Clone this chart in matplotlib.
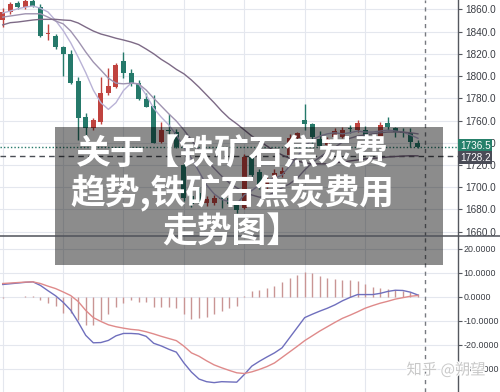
import matplotlib
matplotlib.use("Agg")
import matplotlib.pyplot as plt
from matplotlib.patches import Rectangle
from matplotlib.lines import Line2D
import matplotlib.transforms as mtransforms
import matplotlib.patheffects as pe
import numpy as np

plt.rcParams['font.family'] = ['Noto Sans CJK SC', 'DejaVu Sans']

# candles: open, high, low, close
opens = [1850.4, 1857.8, 1865.4, 1861.8, 1867.5, 1862.3, 1837.5, 1836, 1825.8, 1819.8,
         1795.5, 1763.1, 1753.2, 1758.9, 1784.7, 1790.4, 1813.8, 1803, 1794, 1779,
         1773, 1741, 1751.5, 1750, 1720, 1692, 1694.7, 1686, 1685.8, 1690.5,
         1690, 1684, 1681, 1727, 1713.6, 1700, 1708.5, 1711.5, 1729, 1744,
         1760.4, 1757, 1743, 1738, 1745, 1745.5, 1753.3, 1751.5, 1751.5, 1745,
         1745.4, 1757.5, 1753, 1749.3, 1749, 1740]
highs = [1860.9, 1867, 1867.5, 1870, 1870, 1864.8, 1846.8, 1838, 1827, 1823.4,
         1799, 1766.7, 1762, 1799.4, 1807.2, 1812, 1821.9, 1806, 1796.4, 1785,
         1783, 1759, 1766, 1752, 1722, 1697, 1700, 1692, 1693, 1693,
         1692, 1686, 1730, 1731, 1716, 1709, 1716, 1718, 1748, 1750,
         1774.8, 1758, 1751, 1745, 1753, 1754.5, 1756, 1760.4, 1755, 1748,
         1759, 1763.4, 1754, 1753.5, 1753, 1742.5]
lows = [1844.4, 1855.5, 1860, 1860, 1862, 1835.5, 1832.4, 1824, 1800, 1793,
        1742.5, 1744, 1751.4, 1757, 1783, 1789, 1798.2, 1791, 1778, 1772,
        1740, 1739.5, 1742, 1735, 1688, 1682, 1684, 1683, 1684, 1681.5,
        1683, 1677, 1680, 1709, 1698, 1697, 1706, 1709, 1727, 1742,
        1751.4, 1740, 1735, 1736, 1743, 1744, 1749, 1750, 1742, 1741,
        1744, 1751.4, 1745, 1745, 1736.5, 1735.7]
closes = [1857.8, 1864.8, 1861.8, 1867.5, 1863, 1836.3, 1838.4, 1825.8, 1819.5, 1794,
          1762.2, 1753.2, 1760.4, 1785, 1791, 1810, 1803, 1793.5, 1779.1, 1772.4,
          1740, 1751.5, 1750.6, 1736.4, 1690, 1685, 1686.7, 1689, 1690, 1689.8,
          1685, 1679.5, 1727.5, 1711, 1700, 1706, 1713, 1715, 1744, 1748.4,
          1756.8, 1745.5, 1737, 1743, 1750.5, 1751.7, 1752.5, 1757.5, 1744, 1744.5,
          1756, 1754, 1749.6, 1749, 1741, 1736.5]

ma5 = [1856.7, 1858.5, 1860.5, 1862, 1863, 1861, 1857.6, 1850, 1841, 1830,
       1817, 1803, 1787.4, 1776, 1770, 1776, 1787, 1793.6, 1793, 1783,
       1771, 1763, 1756, 1747, 1736, 1726, 1714, 1702, 1694, 1689,
       1687, 1685, 1693, 1697, 1702, 1706.5, 1708, 1711, 1719, 1727,
       1737, 1742.5, 1746, 1748, 1749, 1748, 1749, 1750.5, 1749.6, 1749.6,
       1750.5, 1751.4, 1750.5, 1749.6, 1747, 1744]
ma10 = [1853, 1854, 1855, 1856, 1856, 1856, 1853, 1849.5, 1847, 1840.5,
        1831.5, 1821.6, 1812.6, 1805.4, 1798, 1793.6, 1793, 1793.6, 1793, 1787.4,
        1780, 1773, 1766, 1759.5, 1751.5, 1742.5, 1733.5, 1724.5, 1717, 1710,
        1704, 1699.5, 1695.6, 1693, 1691, 1692, 1695.6, 1699.5, 1703, 1708,
        1715.5, 1722, 1727, 1731.6, 1736, 1740.5, 1744, 1746, 1747, 1748,
        1749, 1749.6, 1749.6, 1749.6, 1749, 1748]
ma20 = [1846, 1848, 1848.6, 1849.5, 1850.4, 1851, 1851, 1851, 1850.4, 1850,
        1847.7, 1844, 1840.5, 1837.8, 1836, 1834, 1832.4, 1830.6, 1828.3, 1824.3,
        1820, 1815, 1810.8, 1806, 1802, 1796.4, 1790, 1783, 1776, 1768.5,
        1762, 1757, 1751.5, 1746, 1741.6, 1737, 1732.5, 1729, 1726, 1723.5,
        1722, 1721, 1721, 1721, 1722, 1722.7, 1723.6, 1724.5, 1725.4, 1726,
        1726.3, 1727.2, 1727.6, 1728, 1728.3, 1728.2]

dif = [5.2, 5.5, 5.8, 6.1, 6.3, 4.8, 2.6, 0.5, -2.2, -5.5,
       -10.5, -16.0, -19.1, -19.0, -18.1, -16.2, -15.2, -15.2, -15.4, -16.4,
       -19.3, -20.4, -21.8, -23.0, -27.5, -31.3, -34.2, -35.3, -35.7, -35.3,
       -35.4, -35.5, -32.3, -28.8, -26.8, -25.0, -23.3, -21.2, -17.0, -12.8,
       -8.6, -7.2, -5.9, -4.7, -3.3, -1.6, -0.2, 1.0, 1.0, 1.0,
       1.5, 2.3, 2.8, 2.7, 2.0, 0.8]
dea = [5.6, 5.8, 6.0, 6.2, 6.3, 5.6, 4.5, 3.5, 2.1, 0.6,
       -1.9, -5.6, -8.6, -10.2, -11.6, -12.4, -13.0, -13.5, -13.8, -14.5,
       -15.4, -16.4, -17.3, -18.2, -20.5, -23.3, -24.7, -26.6, -28.3, -29.5,
       -30.6, -31.6, -31.9, -31.2, -30.2, -29.0, -27.5, -25.2, -22.9, -20.6,
       -18.2, -16.2, -14.2, -12.4, -10.6, -8.9, -7.6, -6.2, -4.7, -3.6,
       -2.6, -1.8, -0.9, -0.3, 0.3, 0.6]
hist = [-0.5, 0, 0, 0.2, 0.2, -1.25, -2.5, -3.75, -6.5, -6.8,
        -9.7, -11.8, -11.8, -9.7, -7.1, -4.2, -2.5, -1.25, -1.9, -2.1,
        -4.2, -4.2, -4.2, -4.7, -7.2, -9.0, -8.6, -8.2, -7.1, -5.7,
        -4.7, -3.75, 0.3, 2.6, 2.8, 3.75, 4.7, 6.1, 7.9, 9.3,
        10.4, 10.0, 8.9, 7.8, 7.5, 6.9, 6.9, 6.8, 5.4, 4.2,
        3.6, 3.3, 2.8, 2.5, 2.1, 1.25]

price_ticks = [1660, 1680, 1700, 1720, 1740, 1760, 1780, 1800, 1820, 1840, 1860]
macd_ticks = [-30, -20, -10, 0, 10, 20]
last_price = 1736.5
ma_last = 1728.2

up_col = '#c0433f'
down_col = '#25796a'
grid_col = '#e4e7ee'
axis_col = '#55585f'
num_font = 'Liberation Sans'

x = np.arange(len(opens))
o = np.array(opens); c = np.array(closes)
colors = [up_col if cc >= oo else down_col for oo, cc in zip(opens, closes)]
bottoms = np.minimum(o, c)
heights = np.maximum(np.abs(c - o), 0.6)

W, H = 500, 392
fig = plt.figure(figsize=(5, 3.92), dpi=100)
ax1 = fig.add_axes([0, 1 - 236 / H, 458 / W, 236 / H])
ax2 = fig.add_axes([0, 0, 458 / W, (H - 236) / H])

xmin, xmax = -2.7 / 7.55, (458 - 2.7) / 7.55
for ax in (ax1, ax2):
    ax.set_xlim(xmin, xmax)
    for s in ('top', 'left', 'bottom'):
        ax.spines[s].set_visible(False)
    ax.spines['right'].set_color(axis_col)
    ax.spines['right'].set_linewidth(1)
    ax.yaxis.tick_right()
    ax.tick_params(axis='y', length=3, width=0.8, color=axis_col, labelsize=7.2,
                   labelcolor='#3a3d44', pad=2)
    ax.set_xticks(np.arange(0, 56, 8))
    ax.tick_params(axis='x', length=0, labelbottom=False)
    ax.grid(True, color=grid_col, lw=0.8)
    ax.set_axisbelow(True)
    ax.axvline(56, color='#777a80', lw=1, ls=(0, (3, 3)))

# price panel
ax1.set_ylim(1656.1, 1868.4)
ax1.set_yticks(price_ticks)
ax1.set_yticklabels(['%.1f' % t for t in price_ticks], family=num_font)
ax1.vlines(x, lows, highs, colors=colors, lw=1, zorder=3)
ax1.bar(x, heights, bottom=bottoms, width=0.66, color=colors, zorder=4)
ax1.plot(x, ma5, color='#b9b2d6', lw=1, zorder=5)
ax1.plot(x, ma10, color='#9f93b0', lw=1, zorder=5)
ax1.plot(x, ma20, color='#7d6a86', lw=1, zorder=5)
ax1.axhline(last_price, color=down_col, lw=1, ls=(0, (1, 1.5)), zorder=2)
ax1.axhline(ma_last, color='#4a4d55', lw=1, ls=(0, (4, 3)), zorder=2)

trans = mtransforms.blended_transform_factory(ax1.transAxes, ax1.transData)
ax1.text(1.004, last_price + 0.6, '%.1f' % last_price, transform=trans, color='white',
         fontsize=7.2, family=num_font, va='center', ha='left', zorder=10, clip_on=False,
         bbox=dict(boxstyle='square,pad=0.18', facecolor='#26806a', edgecolor='none'))
ax1.text(1.004, ma_last - 1.6, '%.1f' % ma_last, transform=trans, color='white',
         fontsize=7.2, family=num_font, va='center', ha='left', zorder=10, clip_on=False,
         bbox=dict(boxstyle='square,pad=0.18', facecolor='#4a4c57', edgecolor='none'))

# macd panel
ax2.set_ylim(-39.6, 25.4)
ax2.set_yticks(macd_ticks)
ax2.set_yticklabels(['%.4f' % t for t in macd_ticks], family=num_font)
ax2.tick_params(axis='y', labelsize=6.4, pad=1)
ax2.vlines(x, 0, hist, colors='#c99594', lw=1, zorder=3)
ax2.plot(x, dif, color='#6f6fbd', lw=1, zorder=4)
ax2.plot(x, dea, color='#df8a8a', lw=1, zorder=4)

# panel separator
fig.add_artist(Line2D([0, 1], [1 - 236 / H, 1 - 236 / H], transform=fig.transFigure,
                      color='#4f525a', lw=1.1))

# grey overlay with title
fig.add_artist(Rectangle((55 / W, 1 - 265 / H), (443 - 55) / W, (265 - 127) / H,
                         transform=fig.transFigure, facecolor='black', alpha=0.45,
                         edgecolor='none'))
lines = ['关于【铁矿石焦炭费', '趋势,铁矿石焦炭费用', '走势图】']
ys = [154, 193, 232]
for t, yy in zip(lines, ys):
    fig.text(232 / W, 1 - yy / H, t, color='white', fontsize=25, fontweight='bold',
             ha='center', va='center')

fig.text(446 / W, 1 - 370 / H, '知乎 @朔望', color='#c8c8c8', fontsize=11,
         ha='center', va='center',
         path_effects=[pe.withStroke(linewidth=1.5, foreground='white')])

fig.savefig('out.png', dpi=100)
